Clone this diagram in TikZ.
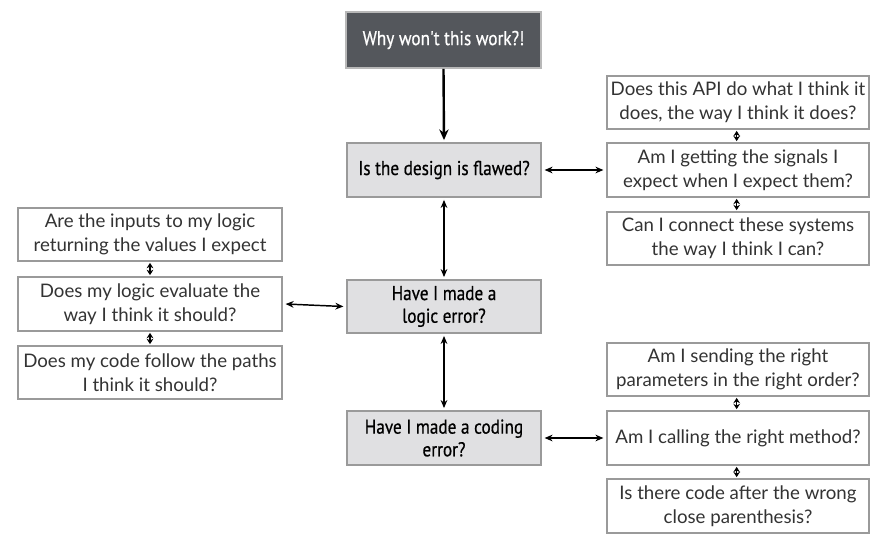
\documentclass[tikz,border=0pt]{standalone}
\usepackage{fontspec}
\setmainfont{Lato}
\newfontfamily\ctrfont[FakeStretch=0.86,FakeBold=0.6]{PT Sans}
\usetikzlibrary{arrows.meta,fit}
\definecolor{darkbox}{HTML}{54575C}
\definecolor{lightbox}{HTML}{E0E0E2}
\definecolor{edgegray}{HTML}{9A9A9A}
\definecolor{txt}{HTML}{333333}
\begin{document}
\begin{tikzpicture}[x=0.75pt,y=-0.75pt,
  basebox/.style={rectangle,inner sep=0pt,line width=1.4pt,align=center},
  topbox/.style={basebox,draw=edgegray!70,fill=darkbox},
  graybox/.style={basebox,draw=edgegray,fill=lightbox},
  whitebox/.style={basebox,draw=edgegray,fill=white},
  ctrtext/.style={font=\ctrfont\fontsize{15}{17}\selectfont,align=center},
  qtext/.style={font=\fontsize{14}{18}\selectfont,text=txt,align=center},
  link/.style={line width=1.1pt,{Stealth[length=6pt,width=5pt]}-{Stealth[length=6pt,width=5pt]}},
  tiny/.style={line width=1.1pt,{Stealth[length=4pt,width=5pt]}-{Stealth[length=4pt,width=5pt]}},
  mainarrow/.style={line width=1.8pt,-{Stealth[length=8pt,width=7pt]}}
]
\useasboundingbox[fill=white] (0,0) rectangle (885,547);

% centre column
\node[topbox,fit={(346,12) (541,68)}] (top) {};
\node[ctrtext,text=white] at (top.center) {Why won't this work?!};
\node[graybox,fit={(347,143) (541,197)}] (design) {};
\node[ctrtext] at (design.center) {Is the design is flawed?};
\node[graybox,fit={(347,280) (541,333)}] (logic) {};
\node[ctrtext] at (logic.center) {Have I made a\\logic error?};
\node[graybox,fit={(347,411) (541,465)}] (coding) {};
\node[ctrtext] at (coding.center) {Have I made a coding\\error?};

% right upper group
\node[whitebox,fit={(607,76) (869,129)}] (ra) {};
\node[qtext] at (ra.center) {Does this API do what I think it\\does, the way I think it does?};
\node[whitebox,fit={(607,143) (869,197)}] (rb) {};
\node[qtext] at (rb.center) {Am I getting the signals I\\expect when I expect them?};
\node[whitebox,fit={(607,212) (869,265)}] (rc) {};
\node[qtext] at (rc.center) {Can I connect these systems\\the way I think I can?};

% left group
\node[whitebox,fit={(18,208) (282,261)}] (la) {};
\node[qtext] at (la.center) {Are the inputs to my logic\\returning the values I expect};
\node[whitebox,fit={(18,277) (282,331)}] (lb) {};
\node[qtext] at (lb.center) {Does my logic evaluate the\\way I think it should?};
\node[whitebox,fit={(18,346) (282,399)}] (lc) {};
\node[qtext] at (lc.center) {Does my code follow the paths\\I think it should?};

% right lower group
\node[whitebox,fit={(607,343) (869,396)}] (sa) {};
\node[qtext] at (sa.center) {Am I sending the right\\parameters in the right order?};
\node[whitebox,fit={(607,411) (869,465)}] (sb) {};
\node[qtext] at (sb.center) {Am I calling the right method?};
\node[whitebox,fit={(607,479) (869,533)}] (sc) {};
\node[qtext] at (sc.center) {Is there code after the wrong\\close parenthesis?};

% connectors
\draw[mainarrow] (top.south) -- ([yshift=1.5pt]design.north);
\draw[link] ([yshift=-1.5pt]design.south) -- ([yshift=1.5pt]logic.north);
\draw[link] ([yshift=-1.5pt]logic.south) -- ([yshift=1.5pt]coding.north);
\draw[link] ([xshift=2pt]design.east) -- ([xshift=-2pt]rb.west);
\draw[link] ([xshift=-2pt]logic.west) -- ([xshift=2pt]lb.east);
\draw[link] ([xshift=2pt]coding.east) -- ([xshift=-2pt]sb.west);

\draw[tiny] ([xshift=-1pt,yshift=-0.7pt]ra.south) -- ([xshift=-1pt,yshift=0.7pt]rb.north);
\draw[tiny] ([xshift=-1pt,yshift=-0.7pt]rb.south) -- ([xshift=-1pt,yshift=0.7pt]rc.north);
\draw[tiny] ([yshift=-0.7pt]la.south) -- ([yshift=0.7pt]lb.north);
\draw[tiny] ([yshift=-0.7pt]lb.south) -- ([yshift=0.7pt]lc.north);
\draw[tiny] ([xshift=-1pt,yshift=-0.7pt]sa.south) -- ([xshift=-1pt,yshift=0.7pt]sb.north);
\draw[tiny] ([xshift=-1pt,yshift=-0.7pt]sb.south) -- ([xshift=-1pt,yshift=0.7pt]sc.north);
\end{tikzpicture}
\end{document}
